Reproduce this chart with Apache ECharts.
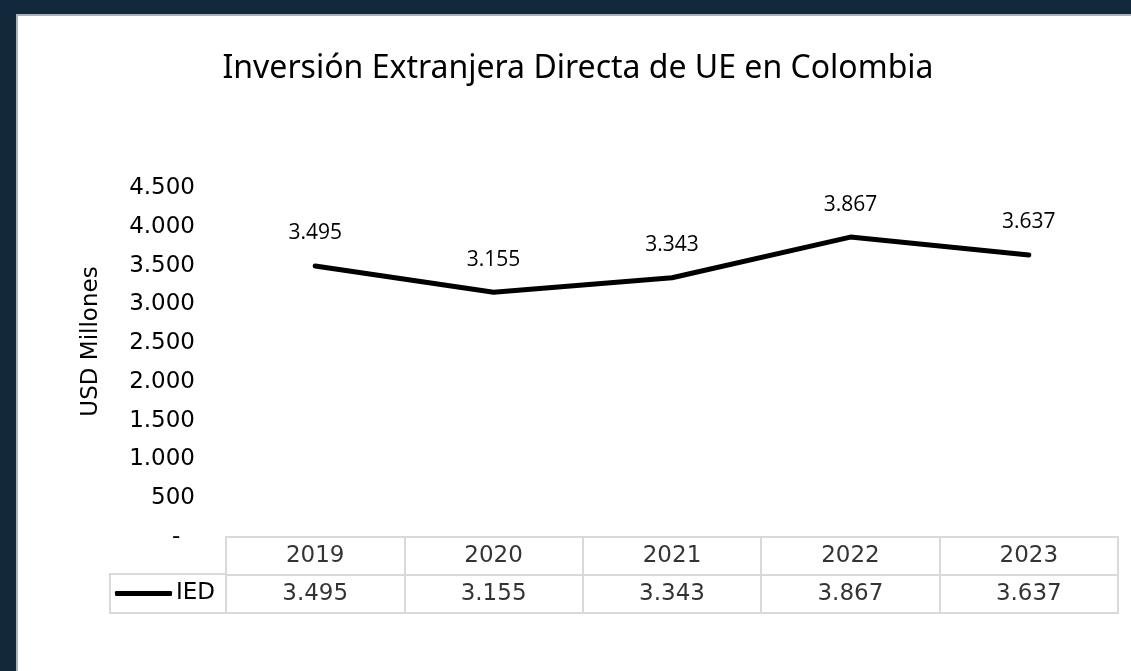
<!DOCTYPE html>
<html>
<head>
<meta charset="utf-8">
<script src="https://cdn.jsdelivr.net/npm/echarts@6/dist/echarts.min.js"></script>
<style>
  html, body { margin: 0; padding: 0; }
  body { width: 1131px; height: 671px; background: #12293b; position: relative; overflow: hidden; }
  .sheet { position: absolute; left: 16px; top: 14px; right: 0; bottom: 0; background: #fff; border-left: 2px solid #aab3ba; border-top: 2px solid #aab3ba; }
  #chart { position: absolute; left: 0; top: 0; width: 1131px; height: 671px; }
</style>
</head>
<body>
<div class="sheet"></div>
<div id="chart"></div>
<script>
// data
const years = ['2019', '2020', '2021', '2022', '2023']
const ied = [3495, 3155, 3343, 3867, 3637]
const seriesName = 'IED'
const titleText = 'Inversión Extranjera Directa de UE en Colombia'
const yName = 'USD Millones'

function fmt(v) {
  return String(v).replace(/\B(?=(\d{3})+(?!\d))/g, '.')
}

const chart = echarts.init(document.getElementById('chart'), null, { renderer: 'canvas' })

const gridColor = '#d9d9d9'
const tableFont = 'DejaVu Sans'

// header row (years) and value row, as cells of the table grid
const headerCells = years.map(y => [y, 'Año'])
const valueCells = years.map((y, i) => [y, seriesName, ied[i]])

const option = {
  animation: false,
  title: {
    text: titleText,
    left: 573,
    top: 48,
    textAlign: 'center',
    textStyle: {
      fontFamily: 'Noto Sans',
      fontSize: 32,
      fontWeight: 'normal',
      color: '#000'
    }
  },
  legend: {
    data: [seriesName],
    left: 110,
    top: 574,
    icon: 'roundRect',
    itemWidth: 57,
    itemHeight: 5,
    borderColor: gridColor,
    borderWidth: 2,
    borderRadius: 0,
    padding: [8, 11, 8, 5],
    textStyle: {
      fontFamily: tableFont,
      fontSize: 23,
      color: '#000',
      padding: [2, 0, 0, -1]
    }
  },
  grid: [
    { left: 226, right: 13, top: 188, height: 349 },
    { left: 226, right: 13, top: 537, height: 76, show: true, borderColor: gridColor, borderWidth: 2 }
  ],
  xAxis: [
    {
      type: 'category',
      gridIndex: 0,
      data: years,
      boundaryGap: true,
      axisLine: { show: false },
      axisTick: { show: false },
      axisLabel: { show: false },
      splitLine: { show: false }
    },
    {
      type: 'category',
      gridIndex: 1,
      data: years,
      boundaryGap: true,
      axisLine: { show: false },
      axisTick: { show: false },
      axisLabel: { show: false },
      splitLine: { show: true, lineStyle: { color: gridColor, width: 2 } }
    }
  ],
  yAxis: [
    {
      type: 'value',
      gridIndex: 0,
      min: 0,
      max: 4500,
      interval: 500,
      name: yName,
      nameLocation: 'middle',
      nameGap: 123,
      nameRotate: 90,
      nameTextStyle: {
        fontFamily: tableFont,
        fontSize: 23,
        color: '#000',
        padding: [0, 0, 0, 42]
      },
      axisLine: { show: false },
      axisTick: { show: false },
      splitLine: { show: false },
      axisLabel: {
        margin: 31,
        fontFamily: tableFont,
        fontSize: 23,
        color: '#000',
        formatter: v => (v === 0 ? '-  ' : fmt(v))
      }
    },
    {
      type: 'category',
      gridIndex: 1,
      data: [seriesName, 'Año'],
      axisLine: { show: false },
      axisTick: { show: false },
      axisLabel: { show: false },
      splitLine: { show: true, lineStyle: { color: gridColor, width: 2 } }
    }
  ],
  series: [
    {
      name: seriesName,
      type: 'line',
      xAxisIndex: 0,
      yAxisIndex: 0,
      data: ied,
      symbol: 'circle',
      symbolSize: 4,
      itemStyle: { color: '#000' },
      lineStyle: { color: '#000', width: 5, cap: 'round', join: 'round' },
      label: {
        show: true,
        position: 'top',
        distance: 20,
        fontFamily: 'Open Sans',
        fontSize: 21,
        color: '#000',
        formatter: p => fmt(p.value)
      }
    },
    {
      name: 'header',
      type: 'scatter',
      xAxisIndex: 1,
      yAxisIndex: 1,
      data: headerCells,
      symbolSize: 0,
      silent: true,
      label: {
        show: true,
        position: 'inside',
        fontFamily: tableFont,
        fontSize: 23,
        color: '#000',
        formatter: p => p.value[0]
      }
    },
    {
      name: 'values',
      type: 'scatter',
      xAxisIndex: 1,
      yAxisIndex: 1,
      data: valueCells,
      symbolSize: 0,
      silent: true,
      label: {
        show: true,
        position: 'inside',
        fontFamily: tableFont,
        fontSize: 23,
        color: '#000',
        formatter: p => fmt(p.value[2])
      }
    }
  ]
}

chart.setOption(option)
</script>
</body>
</html>
